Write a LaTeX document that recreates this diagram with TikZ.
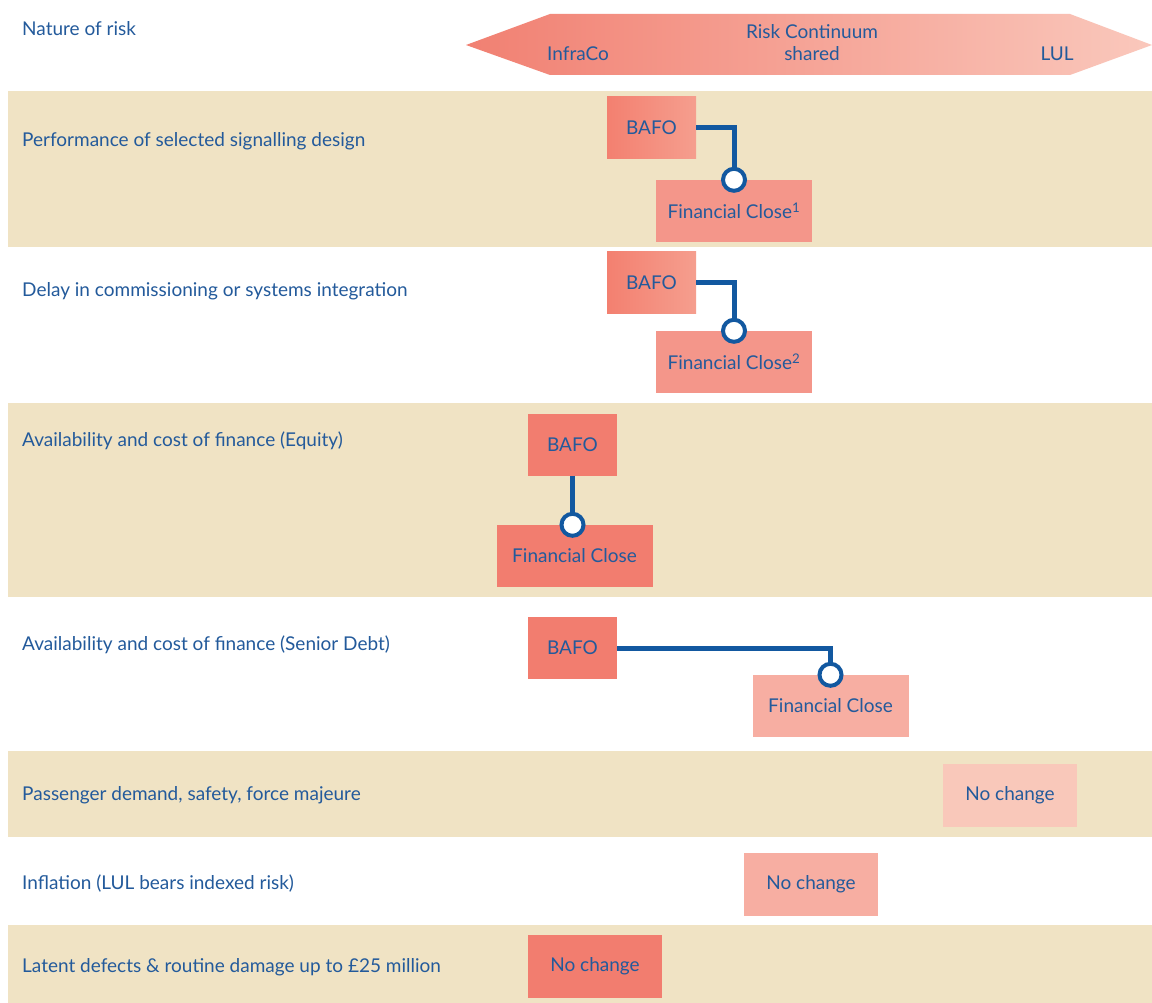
\documentclass[tikz,border=0pt]{standalone}
\usepackage{fontspec}
\setmainfont{Lato}
\definecolor{beige}{RGB}{240,227,196}
\definecolor{txt}{RGB}{35,90,155}
\definecolor{lnk}{RGB}{18,88,160}
\definecolor{dark}{RGB}{242,125,111}
\definecolor{mid}{RGB}{244,150,138}
\definecolor{light}{RGB}{247,174,162}
\definecolor{pale}{RGB}{249,200,186}
\definecolor{arrL}{RGB}{241,128,114}
\definecolor{arrR}{RGB}{250,200,188}
\definecolor{gradL}{RGB}{243,128,112}
\definecolor{gradR}{RGB}{245,158,142}
\begin{document}
\begin{tikzpicture}[x=1pt,y=-1pt,
  every node/.style={text=txt, font=\fontsize{19}{22}\selectfont, inner sep=0},
  lbl/.style={anchor=west},
  band/.style={fill=beige},
  bafo/.style={minimum width=89pt, minimum height=62pt},
  fc/.style={minimum width=156pt, minimum height=62pt},
  nc/.style={minimum width=134pt, minimum height=63pt},
  knob/.style={circle, minimum size=22pt, draw=lnk, line width=4pt, fill=white},
  link/.style={draw=lnk, line width=5pt}
]
\useasboundingbox (0,0) rectangle (1152,1003);
\fill[white] (0,0) rectangle (1152,1003);
% bands
\fill[band] (8,91) rectangle (1152,247);
\fill[band] (8,403) rectangle (1152,597);
\fill[band] (8,751) rectangle (1152,837);
\fill[band] (8,925) rectangle (1152,1003);
% header
\node[lbl] (nat) at (22,29) {Nature of risk};
\shade[left color=arrL, right color=arrR] (466,45) -- (550,14) -- (1070,14) -- (1152,45) -- (1070,75) -- (550,75) -- cycle;
\node (rc) at (812,32) {Risk Continuum};
\node (sh) at (812,54) {shared};
\node (ic) at (578,54) {InfraCo};
\node (lul) at (1057,54) {LUL};
% row labels
\node[lbl] (r1) at (22,141) {Performance of selected signalling design};
\node[lbl] (r2) at (22,291) {Delay in commissioning or systems integration};
\node[lbl] (r3) at (22,441) {Availability and cost of finance (Equity)};
\node[lbl] (r4) at (22,645) {Availability and cost of finance (Senior Debt)};
\node[lbl] (r5) at (22,795) {Passenger demand, safety, force majeure};
\node[lbl] (r6) at (22,884) {Inflation (LUL bears indexed risk)};
\node[lbl] (r7) at (22,967) {Latent defects \& routine damage up to £25 million};
% row 1
\node[bafo, left color=gradL, right color=gradR] (b1) at (651.5,127.5) {BAFO};
\node[fc, fill=mid] (f1) at (734,211) {Financial Close\textsuperscript{1}};
\path[link] (b1.east) -| (f1.north);
\node[knob] (k1) at (f1.north) {};
% row 2
\node[bafo, left color=gradL, right color=gradR] (b2) at (651.5,283) {BAFO};
\node[fc, fill=mid] (f2) at (734,362) {Financial Close\textsuperscript{2}};
\path[link] (b2.east) -| (f2.north);
\node[knob] (k2) at (f2.north) {};
% row 3
\node[bafo, fill=dark] (b3) at (572.5,444.5) {BAFO};
\node[fc, fill=dark] (f3) at (574.5,556) {Financial Close};
\path[link] (b3.south) -- (b3.south |- f3.north);
\node[knob] (k3) at (b3.south |- f3.north) {};
% row 4
\node[bafo, fill=dark] (b4) at (572.5,648) {BAFO};
\node[fc, fill=light] (f4) at (830.5,706) {Financial Close};
\path[link] (b4.east) -| (f4.north);
\node[knob] (k4) at (f4.north) {};
% no change
\node[nc, fill=pale] (n5) at (1010,795) {No change};
\node[nc, fill=light] (n6) at (811,884.5) {No change};
\node[nc, fill=dark] (n7) at (595,966.5) {No change};
\end{tikzpicture}
\end{document}
